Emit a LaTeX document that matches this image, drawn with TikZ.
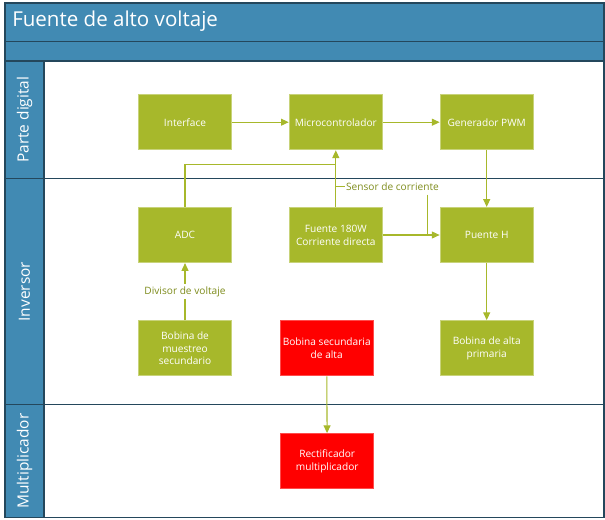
\documentclass[tikz,border=0pt]{standalone}
\usepackage{fontspec}
\setmainfont{Open Sans}
\usetikzlibrary{arrows.meta}
\definecolor{laneblue}{HTML}{418AB3}
\definecolor{laneedge}{HTML}{24475C}
\definecolor{boxgreen}{HTML}{A7B82B}
\definecolor{boxedge}{HTML}{C8D37A}
\definecolor{labelgreen}{HTML}{7E8C1C}
\definecolor{boxred}{HTML}{FF0000}
\tikzset{
  box/.style={rectangle, minimum width=70pt, minimum height=41.5pt, inner sep=1pt,
    fill=boxgreen, draw=boxedge, line width=0.6pt, text=white, align=center,
    font=\fontsize{7.6}{9.6}\selectfont},
  redbox/.style={box, fill=boxred, draw=boxred!70!white},
  conn/.style={draw=boxgreen, line width=0.8pt},
  arr/.style={conn, -{Triangle[length=5.8pt,width=5.2pt]}},
  lbl/.style={text=labelgreen, font=\fontsize{7.6}{9}\selectfont, inner sep=1pt},
  lanetxt/.style={text=white, font=\fontsize{11.6}{14}\selectfont, rotate=90},
  frame/.style={draw=laneedge, line width=0.8pt}
}
\begin{document}
\begin{tikzpicture}[x=0.75pt,y=-0.75pt]
\useasboundingbox (0,0) rectangle (605,519);
% pool and lanes
\fill[laneblue] (5,3) rectangle (604,61);
\fill[laneblue] (5,61) rectangle (44,517.5);
\draw[frame] (5,3) rectangle (604,517.5);
\draw[frame] (5,41.5) -- (604,41.5);
\draw[frame] (5,61) -- (604,61);
\draw[frame] (5,178.5) -- (604,178.5);
\draw[frame] (5,404.8) -- (604,404.8);
\draw[frame] (44,61) -- (44,517.5);
\node[anchor=west, text=white, font=\fontsize{15.4}{18}\selectfont, inner sep=0pt] (title) at (12,21.5) {Fuente de alto voltaje};
\node[lanetxt] (l1) at (24.5,119.7) {Parte digital};
\node[lanetxt] (l2) at (24.5,291.6) {Inversor};
\node[lanetxt] (l3) at (24.5,461.1) {Multiplicador};
% boxes
\node[box] (iface) at (185,122.2) {Interface};
\node[box] (micro) at (335.8,122.2) {Microcontrolador};
\node[box] (pwm) at (486.7,122.2) {Generador PWM};
\node[box] (adc) at (185,235) {ADC};
\node[box] (fuente) at (335.8,235) {Fuente 180W\\Corriente directa};
\node[box] (puente) at (486.7,235) {Puente H};
\node[box] (bmues) at (185,348.2) {Bobina de\\muestreo\\secundario};
\node[redbox] (bsec) at (326.7,348.2) {Bobina secundaria\\de alta};
\node[box] (balta) at (486.7,348.2) {Bobina de alta\\primaria};
\node[redbox] (rect) at (327.2,461.2) {Rectificador\\multiplicador};
% connectors
\draw[arr] (iface) -- (micro);
\draw[arr] (micro) -- (pwm);
\draw[arr] (pwm) -- (puente);
\draw[arr] (puente) -- (balta);
\draw[arr] (bsec) -- (rect);
\draw[arr] (fuente) -- (puente);
\draw[arr] (fuente) -- (micro);
\coordinate (bend) at (185,164.3);
\coordinate (join) at (335.8,164.3);
\draw[conn] (adc.north) -- (bend) -- (join);
\draw[arr] (bmues) -- node[fill=white, lbl, inner sep=2pt] (div) {Divisor de voltaje} (adc);
\node[lbl, anchor=west] (sensor) at (344.5,186.7) {Sensor de corriente};
\coordinate (tapA) at (335.8,186.7);
\coordinate (tapB) at (427.7,194.5);
\coordinate (tapC) at (427.7,235);
\draw[conn] (tapA) -- (sensor.west);
\draw[conn] (tapB) -- (tapC);
\end{tikzpicture}
\end{document}
